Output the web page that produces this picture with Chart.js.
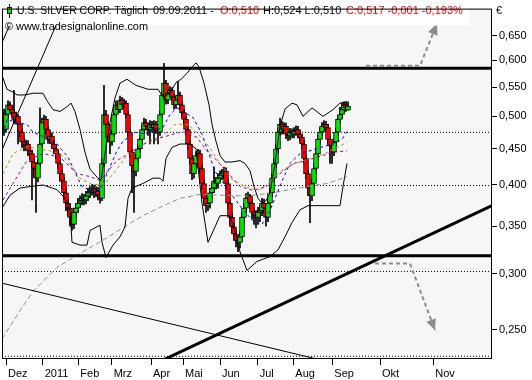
<!DOCTYPE html>
<html>
<head>
<meta charset="utf-8">
<script src="https://cdn.jsdelivr.net/npm/chart.js@4.4.0/dist/chart.umd.min.js"></script>
<style>
  html, body { margin: 0; padding: 0; background: #fff; }
  #wrap { width: 532px; height: 380px; }
</style>
</head>
<body>
<div id="wrap"><canvas id="chart" width="532" height="380"></canvas></div>
<script>
// daily candles (index = trading day, prices in 1/1000 €)
const opens = [505,479,503,519,511,506,495,500,487,475,
  460,454,457,447,443,431,422,409,429,457,
  490,495,479,464,469,457,450,443,429,415,
  405,390,377,371,360,352,366,371,377,380,
  383,381,386,390,392,395,390,392,387,383,
  429,503,487,467,460,472,503,519,511,527,
  519,522,503,475,445,426,418,436,450,464,
  479,490,484,479,487,482,487,479,475,503,
  536,557,527,539,544,532,519,527,536,519,
  506,495,479,457,436,415,429,440,443,422,
  402,383,374,377,390,396,405,402,409,413,
  415,418,402,377,360,349,341,334,332,338,
  360,371,383,386,377,366,363,360,366,368,
  377,371,360,377,390,409,429,450,475,487,
  479,484,472,469,475,472,476,479,472,467,
  457,436,415,396,386,402,422,443,464,475,
  484,487,482,464,454,445,460,475,495,503,
  511,519,510];
const highs = [512,510,526,524,518,544,507,503,492,480,
  466,463,462,452,448,436,427,434,514,497,
  502,500,484,476,474,462,455,448,434,420,
  410,395,382,376,365,371,377,383,386,389,
  388,392,396,398,401,400,398,397,391,436,
  553,510,492,472,478,508,526,524,534,532,
  529,526,508,480,450,432,442,456,470,485,
  497,495,489,493,492,493,492,484,508,542,
  594,562,546,551,549,537,533,560,541,524,
  511,500,484,462,441,435,446,449,448,427,
  407,388,383,396,402,424,410,415,419,421,
  424,423,407,382,365,354,346,339,344,366,
  377,389,391,388,382,371,368,372,374,383,
  382,376,383,396,415,435,456,481,497,492,
  490,489,477,481,480,482,485,484,477,472,
  462,441,420,401,408,428,449,470,481,490,
  493,492,487,469,459,466,481,501,515,522,
  524,524,524];
const lows = [470,475,498,505,500,488,490,457,468,452,
  447,449,440,435,381,410,366,404,425,452,
  484,472,458,458,450,443,436,422,405,396,
  382,368,362,350,345,347,360,366,372,375,
  375,376,380,384,387,384,385,381,377,380,
  425,480,460,443,455,468,498,505,506,513,
  513,497,468,437,390,366,412,430,445,458,
  473,478,470,457,475,457,473,457,470,498,
  530,520,521,533,526,512,513,520,512,499,
  488,471,449,428,407,409,423,434,415,395,
  376,366,368,371,384,390,395,396,403,407,
  409,395,370,352,342,334,327,322,326,333,
  354,365,376,370,358,352,348,352,355,362,
  364,350,355,371,385,403,423,444,470,472,
  473,465,462,463,466,466,470,466,460,450,
  429,408,388,354,380,396,416,437,458,469,
  478,475,457,429,429,440,455,470,490,497,
  505,508,510];
const closes = [479,503,519,511,506,495,500,487,475,460,
  454,457,447,443,431,422,409,429,457,490,
  495,479,464,469,457,450,443,429,415,405,
  390,377,371,360,352,366,371,377,380,383,
  381,386,390,392,395,390,392,387,383,429,
  503,487,467,460,472,503,519,511,527,519,
  522,503,475,445,426,418,436,450,464,479,
  490,484,479,487,482,487,479,475,503,536,
  557,527,539,544,532,519,527,536,519,506,
  495,479,457,436,415,429,440,443,422,402,
  383,374,377,390,396,405,402,409,413,415,
  418,402,377,360,349,341,334,332,338,360,
  371,383,386,377,366,363,360,366,368,377,
  371,360,377,390,409,429,450,475,487,479,
  484,472,469,475,472,476,479,472,467,457,
  436,415,396,386,402,422,443,464,475,484,
  487,482,464,454,445,460,475,495,503,511,
  519,514,517];

// x axis: month ticks at trading-day index
const monthTicks = [1, 19.35, 37.15, 53.85, 73.5, 89.5, 108, 126.85, 144.65, 164.15, 188, 214.65];
const monthLabels = ['Dez', '2011', 'Feb', 'Mrz', 'Apr', 'Mai', 'Jun', 'Jul', 'Aug', 'Sep', 'Okt', 'Nov'];
const priceTicks = [0.25, 0.30, 0.35, 0.40, 0.45, 0.50, 0.55, 0.60, 0.65];

// Bollinger bands
const bandUpX = [-1,1.5,4.5,6.5,10.5,14.5,19.5,21.5,24.5,28,31.5,33.5,35.5,38,40.5,43,47,48.5,50.5,53,55.5,58,61.5,66,72,77,79.5,83,86,88.5,91.5,94,96,97.5,100,102.5,104,106,108,110.5,114,118,120.5,123,125,127,129,131,133,135.5,138,140.5,144,146.5,149.5,154,159.5,164.5,168,171.5];
const bandUpY = [0.571,0.546,0.541,0.536,0.536,0.539,0.539,0.526,0.511,0.508,0.516,0.522,0.508,0.479,0.445,0.421,0.409,0.406,0.443,0.490,0.531,0.557,0.564,0.553,0.546,0.546,0.532,0.539,0.558,0.564,0.575,0.587,0.595,0.587,0.557,0.519,0.487,0.461,0.440,0.431,0.431,0.433,0.429,0.419,0.398,0.383,0.377,0.380,0.390,0.429,0.484,0.512,0.522,0.519,0.500,0.514,0.500,0.511,0.522,0.524];
const bandLoX = [-1,3,8,13,19.5,26.5,30.5,33,34,38,41.5,43,48,49,51,54.5,58,60.5,62,64,69.5,74.5,78,79.5,81,84,88,93,96,99,102,105.5,108,113,115.5,118,121.5,126.5,133,137,140.5,144,148,152,159.5,168,169.5,171.5];
const bandLoY = [0.371,0.387,0.396,0.398,0.400,0.394,0.383,0.369,0.332,0.329,0.329,0.345,0.351,0.332,0.316,0.329,0.338,0.349,0.383,0.396,0.402,0.409,0.409,0.405,0.436,0.452,0.457,0.457,0.450,0.377,0.332,0.349,0.362,0.362,0.343,0.322,0.303,0.312,0.317,0.324,0.338,0.354,0.369,0.374,0.374,0.374,0.398,0.429];

// moving averages
const blueX = [-0.5,1.5,6.5,11.5,14.5,20.5,26.5,32,36.5,39,43,48,51.5,56.5,59.5,65.5,71.5,76.5,79.5,83,86.5,89.5,94.5,99,103,105.5,110.5,113,120.5,125.5,129,132,135.5,139,143,148,153,159.5,164.5,169,171.5];
const blueY = [0.472,0.495,0.490,0.487,0.475,0.467,0.457,0.438,0.411,0.398,0.393,0.393,0.415,0.447,0.461,0.475,0.472,0.479,0.482,0.503,0.514,0.508,0.498,0.472,0.438,0.418,0.400,0.390,0.366,0.354,0.352,0.363,0.383,0.405,0.429,0.443,0.447,0.453,0.457,0.464,0.476];
const oliveX = [-0.5,4.5,11.5,23,29.5,38,44.5,50.5,55.5,61.5,69.5,76.5,80.5,85.5,92,97,101.5,108,114.5,120.5,127,132,138,145.5,153,160.5,168,171.5];
const oliveY = [0.415,0.443,0.453,0.447,0.440,0.409,0.400,0.402,0.418,0.440,0.457,0.463,0.472,0.487,0.487,0.472,0.457,0.429,0.406,0.398,0.393,0.402,0.418,0.429,0.436,0.443,0.454,0.460];
const purpleX = [-0.5,4.5,11.5,19.5,28,36.5,43,48,56.5,64.5,73,81.5,89.5,96.5,101.5,106.5,118,124.5,131.5,138,144.5,151.5,158,164.5,171.5];
const purpleY = [0.381,0.402,0.433,0.443,0.438,0.415,0.411,0.406,0.433,0.447,0.462,0.469,0.476,0.467,0.447,0.433,0.398,0.393,0.398,0.415,0.429,0.433,0.439,0.445,0.447];
const grayX = [-1,8,14.5,26.5,39.5,53,61.5,69.5,81.5,88,98,108,121.5,134.5,151.5,161.5,169.5,171.5];
const grayY = [0.2425,0.266,0.283,0.306,0.322,0.339,0.351,0.362,0.376,0.383,0.388,0.387,0.386,0.390,0.398,0.402,0.409,0.411];

// drawn trend lines and levels
const trendUpX = [78, 244], trendUpY = [0.2254, 0.3742];
const trendDnX = [-1, 160], trendDnY = [0.2907, 0.2259];
const diagAX = [-1, 30.5], diagAY = [0.4484, 0.7191];
const diagBX = [-1, 7], diagBY = [0.6354, 0.7163];
const thickLevels = [0.5844, 0.3178];
const dottedLevels = [0.4746, 0.3993, 0.3020, 0.2292];
const arrowUpX = [181, 208, 216.5], arrowUpY = [0.5894, 0.5894, 0.676];
const arrowDnX = [185.5, 203, 215.5], arrowDnY = [0.3098, 0.3098, 0.2495];

const X_MIN = -1, X_MAX = 244;
const FONT = '"Liberation Sans", Arial, sans-serif';

const pts = (xs, ys) => xs.map((x, k) => ({ x: x, y: ys[k] }));
function lineSet(xs, ys, color, width, dash, order) {
  return {
    type: 'line', data: pts(xs, ys), borderColor: color, borderWidth: width,
    borderDash: dash || [], pointRadius: 0, fill: false, tension: 0, order: order
  };
}

const datasets = [];
dottedLevels.forEach(v => datasets.push(lineSet([X_MIN, X_MAX], [v, v], '#000', 1, [1, 2], 12)));
datasets.push({
  type: 'bar', order: 10, grouped: false, barThickness: 1, backgroundColor: '#000',
  data: closes.map((c, i) => ({ x: i, y: [lows[i] / 1000, highs[i] / 1000] }))
});
datasets.push({
  type: 'bar', order: 9, grouped: false, barThickness: 5, borderWidth: 1,
  borderColor: '#000', borderSkipped: false,
  backgroundColor: closes.map((c, i) => c >= opens[i] ? '#00e800' : '#ff0000'),
  data: closes.map((c, i) => ({ x: i, y: [opens[i] / 1000, c / 1000] }))
});
datasets.push(lineSet(grayX, grayY, '#909090', 1, [5, 3], 6));
datasets.push(lineSet(bandUpX, bandUpY, '#000', 1, [], 5));
datasets.push(lineSet(bandLoX, bandLoY, '#000', 1, [], 5));
datasets.push(lineSet(purpleX, purpleY, '#a000a0', 1, [3, 3], 4));
datasets.push(lineSet(oliveX, oliveY, '#a0a000', 1, [3, 3], 4));
datasets.push(lineSet(blueX, blueY, '#0000ff', 1, [3, 3], 4));
datasets.push(lineSet(trendDnX, trendDnY, '#000', 1, [], 2));
datasets.push(lineSet(diagAX, diagAY, '#000', 1, [], 2));
datasets.push(lineSet(diagBX, diagBY, '#000', 1, [], 2));
thickLevels.forEach(v => datasets.push(lineSet([X_MIN, X_MAX], [v, v], '#000', 3, [], 1)));
datasets.push(lineSet(trendUpX, trendUpY, '#000', 3, [], 1));
datasets.push(lineSet(arrowUpX, arrowUpY, '#8c8c8c', 2, [4, 3], 0));
datasets.push(lineSet(arrowDnX, arrowDnY, '#8c8c8c', 2, [4, 3], 0));

function arrowHead(ctx, x0, y0, x1, y1) {
  const a = Math.atan2(y1 - y0, x1 - x0), L = 11, W = 5;
  const bx = x1 - L * Math.cos(a), by = y1 - L * Math.sin(a);
  ctx.beginPath();
  ctx.moveTo(x1, y1);
  ctx.lineTo(bx + W * Math.sin(a), by - W * Math.cos(a));
  ctx.lineTo(bx - W * Math.sin(a), by + W * Math.cos(a));
  ctx.closePath();
  ctx.fill();
}

const framePlugin = {
  id: 'frame',
  beforeDraw(chart) {
    const { ctx, chartArea: a } = chart;
    ctx.save();
    ctx.fillStyle = '#fff';
    ctx.fillRect(0, 0, chart.width, chart.height);
    ctx.fillStyle = '#f6f6f6';
    ctx.fillRect(a.left, a.top, a.right - a.left, a.bottom - a.top);
    ctx.restore();
  },
  afterDatasetsDraw(chart) {
    const { ctx, chartArea: a, scales } = chart;
    const px = v => scales.x.getPixelForValue(v), py = v => scales.y.getPixelForValue(v);
    ctx.save();
    ctx.fillStyle = '#8c8c8c';
    [[arrowUpX, arrowUpY], [arrowDnX, arrowDnY]].forEach(([xs, ys]) => {
      const n = xs.length - 1;
      arrowHead(ctx, px(xs[n - 1]), py(ys[n - 1]), px(xs[n]), py(ys[n]));
    });

    // header
    ctx.fillStyle = '#fff';
    ctx.fillRect(a.left + 1, a.top + 1, 466, 16);
    ctx.strokeStyle = '#000';
    ctx.lineWidth = 1;
    ctx.beginPath(); ctx.moveTo(9.5, 4); ctx.lineTo(9.5, 18); ctx.stroke();
    ctx.fillStyle = '#00e800';
    ctx.fillRect(7, 7, 5, 7);
    ctx.strokeRect(7.5, 7.5, 4, 6);
    ctx.font = '11px ' + FONT;
    ctx.textBaseline = 'middle';
    const parts = [
      ['U.S. SILVER CORP. Täglich', 17, 131, '#000'],
      ['09.09.2011 -', 153, 65, '#000'],
      ['O:0,510', 220, 40, '#ff0000'],
      ['H:0,524 L:0,510', 263, 79, '#000'],
      ['C:0,517 -0,001 -0,193%', 346, 121, '#ff0000']
    ];
    parts.forEach(([t, x, w, c]) => { ctx.fillStyle = c; ctx.fillText(t, x, 10.5, w); });
    ctx.fillStyle = '#000';
    ctx.fillText('© www.tradesignalonline.com', 5, 26.5, 143);
    ctx.fillText('€', 496, 10.5);

    // frame
    ctx.strokeStyle = '#000';
    ctx.strokeRect(a.left + 0.5, a.top + 0.5, a.right - a.left - 1, a.bottom - a.top - 1);
    ctx.restore();
  }
};

new Chart(document.getElementById('chart'), {
  type: 'bar',
  data: { datasets },
  options: {
    responsive: false,
    animation: false,
    devicePixelRatio: 1,
    layout: { padding: { left: 2, top: 2, right: 0, bottom: 0 } },
    plugins: { legend: { display: false }, tooltip: { enabled: false } },
    scales: {
      x: {
        type: 'linear', min: X_MIN, max: X_MAX, offset: false,
        afterBuildTicks: s => { s.ticks = monthTicks.map(v => ({ value: v })); },
        afterFit: s => { s.height = 21; },
        grid: { drawOnChartArea: false, drawTicks: true, tickLength: 6, color: '#000', offset: false },
        border: { display: false },
        ticks: {
          autoSkip: false, maxRotation: 0, align: 'start', labelOffset: 2, padding: 2,
          color: '#000', font: { family: FONT, size: 11 },
          callback: (v, i) => monthLabels[i]
        }
      },
      y: {
        type: 'logarithmic', position: 'right', min: 0.2272, max: 0.7097,
        afterBuildTicks: s => { s.ticks = priceTicks.map(v => ({ value: v })); },
        afterFit: s => { s.width = 40; },
        grid: { drawOnChartArea: false, drawTicks: true, tickLength: 5, color: '#000' },
        border: { display: false },
        ticks: {
          autoSkip: false, padding: 2, color: '#000', font: { family: FONT, size: 11 },
          callback: v => v.toFixed(3).replace('.', ',')
        }
      }
    }
  },
  plugins: [framePlugin]
});
</script>
</body>
</html>
